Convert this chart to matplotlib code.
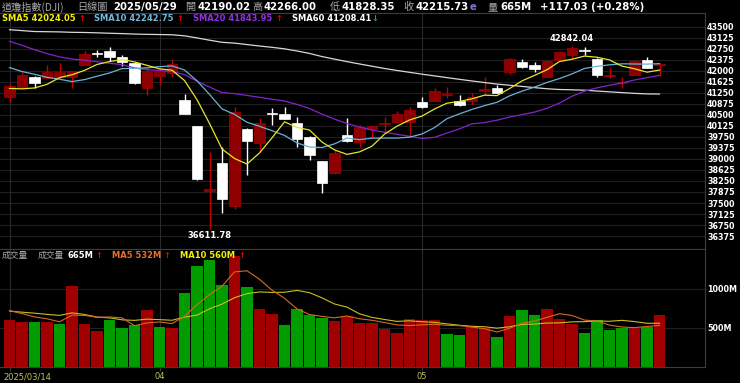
import numpy as np
import matplotlib.pyplot as plt
from matplotlib.transforms import blended_transform_factory

# 道瓊指數 日線 2025/03/14 ~ 2025/05/29
# 之前 59 天收盤，用來算 SMA
prior_close = [43717.48, 43449.90, 42326.87, 42342.24, 42840.26, 42906.95, 43297.03, 43325.80,
               42992.21, 42573.73, 42544.22,
               42392.27, 42732.13, 42706.56, 42528.36, 42635.20, 41938.45, 42297.12, 42518.28,
               43221.55, 43153.13, 43487.83, 44025.81, 44156.73, 44565.07, 44424.25, 44713.58,
               44850.35, 44713.52, 44882.13, 44544.66,
               44421.91, 44556.04, 44873.28, 44747.63, 44303.40, 44470.41, 44593.65, 44368.56,
               44711.43, 44546.08, 44556.34, 44627.59, 44176.65, 43428.02, 43461.21, 43621.16,
               43433.12, 43239.50, 43840.91,
               43191.24, 42520.99, 43006.59, 42579.08, 42801.72, 41911.71, 41433.48, 41350.93,
               40813.57]
prior_volume = [720, 700, 730, 690, 710, 760, 790, 700, 743]

dates = ['2025/03/14', '2025/03/17', '2025/03/18', '2025/03/19', '2025/03/20', '2025/03/21',
         '2025/03/24', '2025/03/25', '2025/03/26', '2025/03/27', '2025/03/28', '2025/03/31',
         '2025/04/01', '2025/04/02', '2025/04/03', '2025/04/04', '2025/04/07', '2025/04/08',
         '2025/04/09', '2025/04/10', '2025/04/11', '2025/04/14', '2025/04/15', '2025/04/16',
         '2025/04/17', '2025/04/21', '2025/04/22', '2025/04/23', '2025/04/24', '2025/04/25',
         '2025/04/28', '2025/04/29', '2025/04/30',
         '2025/05/01', '2025/05/02', '2025/05/05', '2025/05/06', '2025/05/07', '2025/05/08',
         '2025/05/09', '2025/05/12', '2025/05/13', '2025/05/14', '2025/05/15', '2025/05/16',
         '2025/05/19', '2025/05/20', '2025/05/21', '2025/05/22', '2025/05/23', '2025/05/27',
         '2025/05/28', '2025/05/29']

opens = [41100, 41458, 41778, 41764, 41800, 41790, 42200, 42600, 42673, 42459, 42275, 41404,
         41830, 41914, 41006, 40121, 37900, 38851, 37398, 40008, 39532, 40560, 40519, 40213,
         39757, 38920, 38532, 39814, 39587, 40020, 40180, 40267, 40267,
         40927, 40982, 41190, 40982, 40982, 41300, 41404, 41950, 42290, 42197, 41799, 42367,
         42537, 42720, 42391, 41830, 41570, 41856, 42367, 42190.02]
highs = [41574, 41969, 41822, 42197, 42275, 42000, 42673, 42707, 42800, 42537, 42290, 42118,
         42140, 42391, 41199, 40130, 39226, 39416, 40778, 40050, 40403, 40723, 40778, 40417,
         39780, 38940, 39304, 40383, 40155, 40155, 40437, 40642, 40778,
         41097, 41404, 41458, 41176, 41254, 41778, 41516, 42440, 42401, 42289, 42370, 42670,
         42842.04, 42799, 42445, 42105, 41799, 42370, 42459, 42266.00]
lows = [40948, 41404, 41424, 41740, 41744, 41424, 42190, 42459, 42333, 42163, 41540, 41176,
        41520, 41799, 40519, 38283, 36611.78, 37150, 37296, 38453, 39246, 40155, 40350, 39416,
        38964, 37831, 38500, 39590, 39396, 39679, 39927, 40250, 39781,
        40740, 40970, 41084, 40800, 40835, 41176, 41230, 41900, 42100, 41969, 41780, 42350,
        42400, 42537, 41799, 41744, 41404, 41840, 42080, 41828.35]
closes = [41488.19, 41841.63, 41581.31, 41964.63, 41953.32, 41985.35, 42583.32, 42587.50,
          42454.79, 42299.70, 41583.90, 42001.76,
          41989.96, 42225.32, 40545.93, 38314.86, 37965.60, 37645.59, 40608.45, 39593.66,
          40212.71, 40524.79, 40368.96, 39669.39, 39142.23, 38170.41, 39186.98, 39606.57,
          40093.40, 40113.50, 40227.59, 40527.62, 40669.36,
          40752.96, 41317.43, 41218.83, 40829.00, 41113.97, 41368.45, 41249.38, 42410.10,
          42140.43, 42051.06, 42322.75, 42654.74, 42792.07, 42677.24, 41860.44, 41859.09,
          41603.07, 42343.65, 42098.70, 42215.73]
volume = [607, 576, 576, 580, 556, 1030, 556, 458, 598, 500, 534, 734,
          513, 500, 950, 1289, 1361, 1052, 1412, 1021, 747, 674, 534, 738, 661, 627, 585,
          649, 563, 563, 483, 436, 611,
          607, 598, 420, 411, 521, 505, 385, 657, 734, 661, 735, 620, 545, 440, 600, 475,
          500, 505, 515, 665]

price_ticks = list(range(36375, 43875, 375))
vol_ticks = [500, 1000]

n = len(closes)
x = np.arange(n)


def sma(values, k):
    arr = np.asarray(values, dtype=float)
    return np.convolve(arr, np.ones(k) / k, mode='valid')[-n:]


all_close = prior_close + closes
sma5 = sma(all_close, 5)
sma10 = sma(all_close, 10)
sma20 = sma(all_close, 20)
sma60 = sma(all_close, 60)
all_vol = prior_volume + volume
vma5 = sma(all_vol, 5)
vma10 = sma(all_vol, 10)

c_sma5 = '#e6e62a'
c_sma10 = '#6ab2d6'
c_sma20 = '#8424c8'
c_sma60 = '#d8d8d8'
c_vma5 = '#d46a22'
c_vma10 = '#c8c020'
grid_c = '#1f1f1f'
border_c = '#3c3c3c'

plt.rcParams['font.family'] = ['DejaVu Sans']
cjk = ['Noto Sans CJK TC', 'DejaVu Sans']

W, H = 740, 383
fig = plt.figure(figsize=(W / 100, H / 100), dpi=100, facecolor='black')

# 版面 (像素)
x_right = 705
p_top, p_bot = 13.3, 249.3
v_top, v_bot = 249.3, 367.3
ax = fig.add_axes([0, 1 - p_bot / H, x_right / W, (p_bot - p_top) / H])
axv = fig.add_axes([0, 1 - v_bot / H, x_right / W, (v_bot - v_top) / H])

xlim = (-0.76, 55.64)
for a in (ax, axv):
    a.set_facecolor('black')
    a.set_xlim(*xlim)
    for s in a.spines.values():
        s.set_color(border_c)
        s.set_linewidth(0.8)
    a.spines['left'].set_visible(False)
    a.yaxis.tick_right()
    a.tick_params(axis='y', length=0, pad=1.5, colors='white', labelsize=5.8)

# 月份分隔
month_idx = [0] + [i for i in range(1, n) if dates[i][5:7] != dates[i - 1][5:7]]

# ---- 價格 ----
ax.set_ylim(35925, 43956)
ax.set_yticks(price_ticks)
ax.set_yticklabels([str(t) for t in price_ticks], fontweight='bold')
ax.set_xticks([])
for t in price_ticks:
    ax.axhline(t, color=grid_c, lw=0.8, zorder=0)
for i in month_idx:
    ax.axvline(i, color='#2a2a2a', lw=0.8, zorder=0)

for i in range(n):
    o, h, l, c = opens[i], highs[i], lows[i], closes[i]
    up = c >= o
    wick = '#c40000' if up else 'white'
    body = '#8e0000' if up else 'white'
    edge = '#a80000' if up else 'white'
    ax.vlines(i, l, h, color=wick, lw=1.0, zorder=2)
    ax.bar(i, max(abs(c - o), 28), bottom=min(o, c), width=0.86,
           color=body, edgecolor=edge, lw=0.5, zorder=3)

ax.plot(x, sma60, color=c_sma60, lw=0.9, zorder=4)
ax.plot(x, sma20, color=c_sma20, lw=0.9, zorder=4)
ax.plot(x, sma10, color=c_sma10, lw=0.9, zorder=4)
ax.plot(x, sma5, color=c_sma5, lw=0.9, zorder=4)

hi = int(np.argmax(highs))
lo = int(np.argmin(lows))
ax.annotate(f'{highs[hi]:.2f}', xy=(hi, highs[hi]), xytext=(0, 2), textcoords='offset points',
            ha='center', va='bottom', color='white', fontsize=6, fontweight='bold')
ax.annotate(f'{lows[lo]:.2f}', xy=(lo, lows[lo]), xytext=(0, -1.5), textcoords='offset points',
            ha='center', va='top', color='white', fontsize=6, fontweight='bold')

# ---- 成交量 ----
axv.set_ylim(0, 1500)
axv.set_yticks(vol_ticks)
axv.set_yticklabels([f'{t}M' for t in vol_ticks], fontweight='bold')
for t in vol_ticks:
    axv.axhline(t, color=grid_c, lw=0.8, zorder=0)
for i in month_idx:
    axv.axvline(i, color='#2a2a2a', lw=0.8, zorder=0)

prev = [prior_close[-1]] + closes[:-1]
vcol = ['#a20000' if closes[i] >= prev[i] else '#009c00' for i in range(n)]
axv.bar(x, volume, width=0.94, color=vcol, zorder=2)
axv.plot(x, vma10, color=c_vma10, lw=0.8, zorder=3)
axv.plot(x, vma5, color=c_vma5, lw=0.8, zorder=3)

axv.set_xticks(month_idx)
axv.set_xticklabels([])
axv.tick_params(axis='x', length=3, color=border_c)
tr = blended_transform_factory(axv.transData, axv.transAxes)
for k, i in enumerate(month_idx):
    if k == 0:
        axv.text(i - 0.52, -0.08, dates[i], transform=tr, ha='left', va='center',
                 color='#c2c25a', fontsize=6)
    else:
        axv.text(i, -0.08, dates[i][5:7], transform=tr, ha='center', va='center',
                 color='#c2c25a', fontsize=6)


# ---- 標題列 ----
def put(xp, yp, s, color='white', size=7.3, bold=True, fam=None):
    fig.text(xp / W, 1 - yp / H, s, color=color, fontsize=size,
             fontweight='bold' if bold else 'normal', ha='left', va='center',
             family=fam if fam else ['DejaVu Sans'])


gray = '#a8a8a8'
up_c, dn_c = '#e00000', '#00c000'
chg = closes[-1] - closes[-2]
put(1.5, 7, '道瓊指數(DJI)', gray, 7.3, False, cjk)
put(77, 7, '日線圖', gray, 7.3, False, cjk)
put(113, 7, dates[-1])
put(185, 7, '開', gray, 7.3, False, cjk)
put(197, 7, f'{opens[-1]:.2f}')
put(252, 7, '高', gray, 7.3, False, cjk)
put(263, 7, f'{highs[-1]:.2f}')
put(330, 7, '低', gray, 7.3, False, cjk)
put(341, 7, f'{lows[-1]:.2f}')
put(403, 7, '收', gray, 7.3, False, cjk)
put(415, 7, f'{closes[-1]:.2f}')
put(470, 7, 'e', '#8a70d0', 7.3)
put(487, 7, '量', gray, 7.3, False, cjk)
put(500, 7, f'{volume[-1]}M')
put(540, 7, f'{chg:+.2f} ({chg / closes[-2] * 100:+.2f}%)')


def arrow(xp, yp, series):
    if series[-1] >= series[-2]:
        put(xp, yp, '↑', up_c, 6)
    else:
        put(xp, yp, '↓', dn_c, 6)


put(1.5, 18.5, f'SMA5 {sma5[-1]:.2f}', '#f0f000', 6)
arrow(78, 18.5, sma5)
put(94, 18.5, f'SMA10 {sma10[-1]:.2f}', '#70b8e0', 6)
arrow(176, 18.5, sma10)
put(193, 18.5, f'SMA20 {sma20[-1]:.2f}', '#9430e0', 6)
arrow(275, 18.5, sma20)
put(292, 18.5, f'SMA60 {sma60[-1]:.2f}', 'white', 6)
arrow(371, 18.5, sma60)

put(1.5, 255, '成交量', gray, 6.3, False, cjk)
put(38, 255, '成交量', gray, 6.3, False, cjk)
put(67, 255, f'{volume[-1]}M', 'white', 6)
arrow(95, 255, volume)
put(112, 255, f'MA5 {vma5[-1]:.0f}M', '#e87028', 6)
arrow(163, 255, vma5)
put(180, 255, f'MA10 {vma10[-1]:.0f}M', '#f0f000', 6)
arrow(238, 255, vma10)

fig.savefig('out.png', dpi=100, facecolor='black')
